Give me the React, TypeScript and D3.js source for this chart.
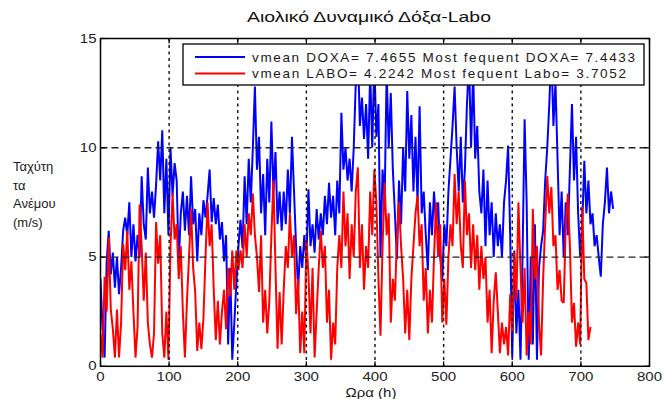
import React from "react";
import * as d3 from "d3";

const STEP_HOURS = 3;

const doxaSpeed = [
  4.0,1.7,0.4,4.8,6.2,4.2,5.2,3.6,5.0,3.3,
  4.5,6.2,6.8,6.0,7.5,5.0,6.5,4.8,6.0,5.0,
  8.7,6.5,5.8,9.1,7.0,8.0,6.8,8.3,10.3,8.5,
  10.8,7.0,9.5,6.0,10.0,7.8,9.3,8.5,4.7,7.0,
  8.0,6.2,7.8,6.0,8.7,6.5,7.2,4.8,7.0,6.0,
  7.6,6.8,7.8,9.0,6.6,7.7,6.5,7.4,5.8,6.6,
  4.8,6.0,1.0,4.5,0.3,2.0,3.8,5.5,6.7,5.4,
  8.7,6.5,9.5,7.5,10.0,12.8,9.0,10.5,7.0,8.8,
  6.0,9.5,7.5,11.2,8.0,9.8,6.5,8.0,6.2,8.0,
  6.5,9.0,7.0,10.5,8.0,5.5,3.5,5.5,4.5,6.0,
  4.8,8.1,5.5,6.5,5.2,7.2,5.8,7.0,6.0,7.8,
  6.5,8.4,6.8,7.8,6.0,8.5,7.0,11.6,9.0,10.0,
  8.5,9.5,8.0,10.0,13.0,14.5,11.0,12.3,10.4,12.0,
  9.5,13.5,10.0,14.0,10.5,12.0,5.0,9.0,7.5,13.5,
  10.0,12.5,9.0,7.0,4.9,8.5,6.5,10.0,8.0,12.6,
  9.5,11.5,8.0,10.5,7.5,11.9,7.0,8.0,6.0,4.4,
  7.5,6.0,8.0,6.5,7.5,5.0,3.9,6.5,5.5,8.0,
  9.5,11.0,12.8,10.0,8.0,10.5,7.5,9.0,12.0,14.0,
  10.0,13.5,9.5,11.0,8.0,7.0,9.0,5.5,8.5,6.0,
  7.5,5.0,7.0,5.5,6.5,5.0,7.5,8.5,10.1,6.0,
  0.4,5.3,1.5,3.5,0.3,5.0,11.3,7.5,0.3,5.0,
  1.0,6.5,0.3,4.5,5.5,6.2,8.5,10.0,12.0,14.5,
  11.0,13.0,9.5,6.0,8.0,5.0,7.5,6.0,9.0,12.0,
  8.5,10.5,7.0,5.0,6.5,9.4,7.0,8.5,6.5,7.0,
  5.5,6.0,5.0,4.1,6.5,7.5,9.1,7.0,8.0,7.2,
];

const laboSpeed = [
  1.5,0.4,4.1,2.5,5.9,2.6,1.7,0.4,2.6,0.4,
  2.0,5.6,4.4,6.2,3.5,4.8,2.5,0.4,1.8,7.4,
  5.5,3.0,5.2,2.0,1.0,0.4,1.5,6.6,4.7,6.0,
  1.5,0.4,2.5,0.3,5.5,7.9,5.8,6.5,4.0,5.5,
  2.5,0.4,3.0,5.0,7.2,4.5,3.4,0.7,2.0,0.8,
  2.2,5.0,7.5,5.5,6.5,3.5,1.2,3.0,1.0,2.5,
  3.5,1.7,4.5,3.2,5.3,3.5,5.3,4.4,5.3,4.5,
  6.5,5.0,7.0,6.0,7.9,6.0,5.0,3.4,6.0,2.0,
  3.5,1.5,3.0,6.0,8.5,4.5,0.8,3.4,1.0,3.5,
  5.5,4.5,7.0,5.0,6.0,2.4,4.0,0.6,2.5,0.6,
  5.8,4.2,1.5,4.5,0.4,2.5,4.5,6.2,4.5,5.5,
  2.0,3.5,0.3,2.0,1.0,4.5,6.0,4.5,8.0,5.5,
  7.0,4.0,6.5,5.0,8.0,9.1,4.5,6.5,3.5,5.5,
  4.5,8.0,6.0,9.0,7.5,4.0,1.4,5.5,8.4,6.0,
  7.0,2.0,4.0,3.0,6.0,7.5,5.5,4.0,1.5,3.5,
  1.2,4.0,5.5,7.0,7.8,5.5,6.5,3.0,4.5,1.5,
  3.5,2.0,5.0,7.5,5.0,6.5,2.0,4.0,1.9,5.0,
  6.5,5.5,8.8,6.5,8.0,5.5,4.5,8.5,6.0,7.0,
  4.5,6.5,4.4,6.0,3.5,5.5,4.0,5.0,2.0,3.5,
  0.6,3.0,4.3,2.5,0.6,2.0,1.0,1.8,0.5,3.3,
  1.5,5.2,3.0,7.5,4.5,2.0,4.5,0.5,2.5,1.0,
  7.2,4.0,5.5,2.0,0.5,4.0,6.5,8.7,7.0,8.2,
  5.5,6.0,3.5,4.4,3.0,2.9,6.5,7.9,5.5,2.0,
  2.9,0.9,2.0,1.0,7.3,4.0,3.8,1.2,1.8,
];

const xTicks = [0, 100, 200, 300, 400, 500, 600, 700, 800];
const yTicks = [0, 5, 10, 15];
const yLabelLines = ["Ταχύτη", "τα", "Ανέμου", "(m/s)"];
const titleText = "Αιολικό Δυναμικό Δόξα-Labo";
const xLabelText = "Ωρα (h)";
const legendLabels = [
  "vmean DOXA= 7.4655 Most fequent DOXA= 7.4433",
  "vmean LABO= 4.2242 Most fequent Labo= 3.7052",
];
const seriesColors = ["#0000ff", "#ff0000"];

const W = 665;
const H = 399;
const L = 100.5, R = 649.5, T = 38.5, B = 366.3;
const FONT = "'Liberation Sans', Arial, Helvetica, sans-serif";
const SX = 1.25;

export default function App() {
  const x = d3.scaleLinear().domain([0, 800]).range([L, R]);
  const y = d3.scaleLinear().domain([0, 15]).range([B, T]);
  const line = d3
    .line<number>()
    .x((_, i) => x(i * STEP_HOURS))
    .y((d) => y(d));
  const series = [doxaSpeed, laboSpeed];

  return (
    <svg
      width={W}
      height={H}
      style={{ position: "absolute", left: 0, top: 0, background: "#fff" }}
      fontFamily={FONT}
    >
      <rect x={0} y={0} width={W} height={H} fill="#fff" />
      <defs>
        <clipPath id="plotClip">
          <rect x={L} y={T} width={R - L} height={B - T} />
        </clipPath>
      </defs>

      <text
        x={369}
        y={22}
        textAnchor="middle"
        fontSize={14}
        fill="#111"
        textLength={244}
        lengthAdjust="spacingAndGlyphs"
      >
        {titleText}
      </text>

      <g clipPath="url(#plotClip)">
        {series.map((s, k) => (
          <path
            key={k}
            d={line(s) || ""}
            fill="none"
            stroke={seriesColors[k]}
            strokeWidth={2}
            strokeLinejoin="miter"
            strokeMiterlimit={2}
          />
        ))}
      </g>

      {/* grid */}
      {xTicks.slice(1, -1).map((t) => (
        <line
          key={"gx" + t}
          x1={x(t)}
          x2={x(t)}
          y1={T}
          y2={B}
          stroke="#111"
          strokeWidth={1.4}
          strokeDasharray="3,3.5"
        />
      ))}
      {yTicks.slice(1, -1).map((t) => (
        <line
          key={"gy" + t}
          x1={L}
          x2={R}
          y1={y(t)}
          y2={y(t)}
          stroke="#222"
          strokeWidth={1.3}
          strokeDasharray="7,4"
        />
      ))}

      {/* ticks */}
      {xTicks.map((t) => (
        <g key={"tx" + t}>
          <line x1={x(t)} x2={x(t)} y1={B} y2={B - 5} stroke="#000" strokeWidth={1.2} />
          <line x1={x(t)} x2={x(t)} y1={T} y2={T + 5} stroke="#000" strokeWidth={1.2} />
          <text
            transform={`translate(${x(t)},${B + 15}) scale(${SX},1)`}
            textAnchor="middle"
            fontSize={12}
            fill="#222"
          >
            {t}
          </text>
        </g>
      ))}
      {yTicks.map((t) => (
        <g key={"ty" + t}>
          <line x1={L} x2={L + 5} y1={y(t)} y2={y(t)} stroke="#000" strokeWidth={1.2} />
          <line x1={R} x2={R - 5} y1={y(t)} y2={y(t)} stroke="#000" strokeWidth={1.2} />
          <text
            transform={`translate(${L - 4},${y(t) + 4}) scale(${SX},1)`}
            textAnchor="end"
            fontSize={12}
            fill="#222"
          >
            {t}
          </text>
        </g>
      ))}

      <rect x={L} y={T} width={R - L} height={B - T} fill="none" stroke="#000" strokeWidth={1.5} />

      {/* legend */}
      <rect x={183} y={44} width={461} height={41} fill="#fff" stroke="#000" strokeWidth={1.3} />
      {legendLabels.map((lab, k) => (
        <g key={"lg" + k}>
          <line
            x1={195}
            x2={245}
            y1={57 + k * 16.5}
            y2={57 + k * 16.5}
            stroke={seriesColors[k]}
            strokeWidth={1.8}
          />
          <text
            x={252}
            y={61.5 + k * 16.5}
            fontSize={13.5}
            fill="#1a1a1a"
            textLength={k === 0 ? 383 : 374}
            lengthAdjust="spacing"
          >
            {lab}
          </text>
        </g>
      ))}

      {/* y label */}
      {yLabelLines.map((s, i) => (
        <text key={"yl" + i} x={13} y={171 + i * 18.7} fontSize={13} fill="#1a1a1a">
          {s}
        </text>
      ))}

      <text
        transform={`translate(371,396.5) scale(1.2,1)`}
        textAnchor="middle"
        fontSize={12.5}
        fill="#1a1a1a"
      >
        {xLabelText}
      </text>
    </svg>
  );
}
